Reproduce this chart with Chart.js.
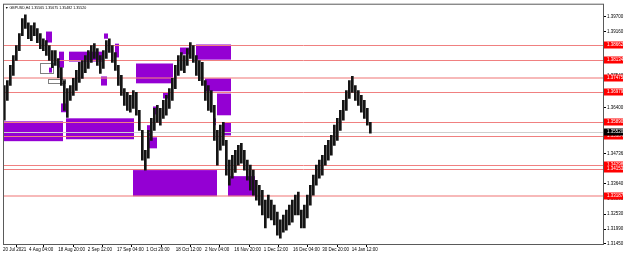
<!DOCTYPE html>
<html>
<head>
<meta charset="utf-8">
<script src="https://cdn.jsdelivr.net/npm/chart.js@4/dist/chart.umd.min.js"></script>
<style>
  html, body { margin: 0; padding: 0; background: #fff; }
  canvas { display: block; }
</style>
</head>
<body>
<canvas id="chart" width="625" height="255"></canvas>
<script>
// GBPUSD H4, one column every 9 bars (1.5 days), high / low
const COL_STEP = 9;
const priceHigh = [
  1.3720, 1.3738, 1.3793, 1.3829, 1.3865, 1.3909, 1.3963, 1.3977, 1.3948, 1.3938,
  1.3948, 1.3927, 1.3909, 1.3890, 1.3883, 1.3865, 1.3847, 1.3847, 1.3818, 1.3785,
  1.3738, 1.3709, 1.3720, 1.3746, 1.3775, 1.3804, 1.3811, 1.3829, 1.3847, 1.3865,
  1.3872, 1.3854, 1.3829, 1.3847, 1.3883, 1.3890, 1.3865, 1.3840, 1.3793, 1.3757,
  1.3709, 1.3695, 1.3684, 1.3702, 1.3695, 1.3630, 1.3557, 1.3485, 1.3557, 1.3601,
  1.3637, 1.3648, 1.3637, 1.3666, 1.3684, 1.3709, 1.3746, 1.3793, 1.3829, 1.3840,
  1.3829, 1.3854, 1.3876, 1.3865, 1.3829, 1.3811, 1.3804, 1.3738, 1.3720, 1.3702,
  1.3648, 1.3557, 1.3576, 1.3586, 1.3521, 1.3449, 1.3467, 1.3485, 1.3503, 1.3510,
  1.3485, 1.3449, 1.3431, 1.3413, 1.3376, 1.3358, 1.3340, 1.3304, 1.3322, 1.3304,
  1.3286, 1.3261, 1.3232, 1.3250, 1.3268, 1.3286, 1.3304, 1.3322, 1.3333, 1.3268,
  1.3286, 1.3322, 1.3358, 1.3395, 1.3431, 1.3449, 1.3467, 1.3503, 1.3521, 1.3539,
  1.3576, 1.3601, 1.3630, 1.3666, 1.3702, 1.3738, 1.3753, 1.3720, 1.3702, 1.3684,
  1.3666, 1.3637, 1.3586
];
const priceLow = [
  1.3594, 1.3666, 1.3720, 1.3757, 1.3811, 1.3847, 1.3901, 1.3927, 1.3890, 1.3883,
  1.3901, 1.3876, 1.3854, 1.3847, 1.3829, 1.3811, 1.3785, 1.3793, 1.3749, 1.3720,
  1.3630, 1.3604, 1.3666, 1.3684, 1.3702, 1.3731, 1.3746, 1.3767, 1.3782, 1.3804,
  1.3818, 1.3793, 1.3764, 1.3782, 1.3818, 1.3840, 1.3804, 1.3775, 1.3720, 1.3684,
  1.3648, 1.3630, 1.3623, 1.3637, 1.3612, 1.3557, 1.3449, 1.3413, 1.3456, 1.3521,
  1.3557, 1.3586, 1.3576, 1.3601, 1.3612, 1.3637, 1.3666, 1.3709, 1.3757, 1.3775,
  1.3767, 1.3793, 1.3818, 1.3804, 1.3757, 1.3738, 1.3720, 1.3666, 1.3630, 1.3623,
  1.3521, 1.3431, 1.3485, 1.3503, 1.3395, 1.3358, 1.3384, 1.3405, 1.3431, 1.3438,
  1.3413, 1.3376, 1.3340, 1.3322, 1.3304, 1.3286, 1.3250, 1.3203, 1.3239, 1.3232,
  1.3214, 1.3177, 1.3166, 1.3188, 1.3195, 1.3214, 1.3224, 1.3250, 1.3250, 1.3203,
  1.3203, 1.3239, 1.3286, 1.3322, 1.3358, 1.3384, 1.3395, 1.3431, 1.3449, 1.3467,
  1.3503, 1.3521, 1.3557, 1.3594, 1.3630, 1.3673, 1.3695, 1.3666, 1.3648, 1.3623,
  1.3601, 1.3576, 1.3547
];

// zones: [first bar, last bar, top price, bottom price]
const zones = [
  [129, 147, 1.3916, 1.3876],
  [168, 183, 1.3843, 1.3785],
  [138, 147, 1.3785, 1.3767],
  [198, 297, 1.3843, 1.3807],
  [303, 315, 1.3909, 1.3890],
  [336, 348, 1.3872, 1.3822],
  [294, 312, 1.3753, 1.3720],
  [399, 510, 1.3800, 1.3728],
  [480, 495, 1.3695, 1.3673],
  [531, 564, 1.3858, 1.3833],
  [579, 684, 1.3869, 1.3814],
  [606, 684, 1.3746, 1.3699],
  [642, 684, 1.3691, 1.3612],
  [630, 639, 1.3601, 1.3576],
  [657, 684, 1.3586, 1.3539],
  [0, 180, 1.3590, 1.3518],
  [189, 393, 1.3601, 1.3525],
  [174, 189, 1.3655, 1.3623],
  [450, 462, 1.3644, 1.3615],
  [432, 447, 1.3576, 1.3532],
  [438, 462, 1.3532, 1.3492],
  [432, 438, 1.3485, 1.3467],
  [390, 642, 1.3413, 1.3318],
  [675, 756, 1.3391, 1.3318]
];
// empty outlined boxes
const boxes = [
  [111, 150, 1.3800, 1.3767],
  [135, 186, 1.3742, 1.3728]
];

const levels = [1.38662, 1.38134, 1.37475, 1.36979, 1.35890, 1.35384, 1.34298, 1.34153, 1.33187];
const wideLevels = [1.37475, 1.33187];
const bidPrice = 1.35520;
const header = "\u25BC GBPUSD,H4 1.35565 1.35675 1.35482 1.35520";

const yTickValues = [1.39700, 1.39160, 1.38620, 1.38080, 1.37540, 1.36950, 1.36400, 1.35860,
  1.35300, 1.34736, 1.34190, 1.33640, 1.33090, 1.32530, 1.31990, 1.31450];
const xTickBars = [0, 78, 166, 254, 342, 430, 518, 606, 694, 782, 870, 958, 1046];
const xTickLabels = ["20 Jul 2021", "4 Aug 04:00", "18 Aug 20:00", "2 Sep 12:00", "17 Sep 04:00",
  "1 Oct 20:00", "18 Oct 12:00", "2 Nov 04:00", "16 Nov 20:00", "1 Dec 12:00",
  "16 Dec 04:00", "30 Dec 20:00", "14 Jan 12:00"];

const FONT = "Liberation Sans";
const AXIS_FONT = 4.5;

const overlay = {
  id: "overlay",
  beforeDatasetsDraw(chart) {
    const { ctx, chartArea: a, scales: { x, y } } = chart;
    ctx.save();
    ctx.beginPath();
    ctx.rect(a.left, a.top, a.width, a.height);
    ctx.clip();

    ctx.fillStyle = "#9400d3";
    zones.forEach(([b0, b1, p0, p1]) => {
      const x0 = x.getPixelForValue(b0), x1 = x.getPixelForValue(b1);
      const y0 = y.getPixelForValue(p0), y1 = y.getPixelForValue(p1);
      ctx.fillRect(x0, y0, x1 - x0, y1 - y0);
    });

    ctx.strokeStyle = "#808080";
    ctx.lineWidth = 1;
    boxes.forEach(([b0, b1, p0, p1]) => {
      const x0 = Math.round(x.getPixelForValue(b0)) + 0.5, x1 = Math.round(x.getPixelForValue(b1)) + 0.5;
      const y0 = Math.round(y.getPixelForValue(p0)) + 0.5, y1 = Math.round(y.getPixelForValue(p1)) + 0.5;
      ctx.strokeRect(x0, y0, x1 - x0, y1 - y0);
    });

    // bid line
    const by = Math.round(y.getPixelForValue(bidPrice)) + 0.5;
    ctx.strokeStyle = "#cfcfcf";
    ctx.beginPath();
    ctx.moveTo(a.left, by);
    ctx.lineTo(a.right, by);
    ctx.stroke();

    levels.forEach((p) => {
      const wide = wideLevels.includes(p);
      const ly = wide ? Math.round(y.getPixelForValue(p)) : Math.round(y.getPixelForValue(p)) + 0.5;
      ctx.strokeStyle = wide ? "rgba(240,128,128,0.55)" : "#f08080";
      ctx.lineWidth = wide ? 2 : 1;
      ctx.beginPath();
      ctx.moveTo(a.left, ly);
      ctx.lineTo(a.right, ly);
      ctx.stroke();
    });
    ctx.restore();
  },
  afterDraw(chart) {
    const { ctx, chartArea: a, scales: { y } } = chart;
    ctx.save();
    // frame
    ctx.strokeStyle = "#5a5a5a";
    ctx.lineWidth = 1;
    ctx.strokeRect(a.left + 0.5, a.top + 0.5, a.width - 1, a.height);

    // price tags on the right axis
    ctx.font = `${AXIS_FONT}px "${FONT}"`;
    ctx.textBaseline = "middle";
    ctx.textAlign = "left";
    const tag = (p, bg) => {
      const ty = Math.round(y.getPixelForValue(p));
      ctx.fillStyle = bg;
      ctx.fillRect(a.right, ty - 3.5, 19, 7);
      ctx.fillStyle = "#fff";
      ctx.fillText(p.toFixed(5), a.right + 3, ty);
    };
    levels.forEach((p) => tag(p, "#ff0000"));
    tag(bidPrice, "#000");

    // symbol header
    ctx.fillStyle = "#000";
    ctx.font = `3.6px "${FONT}"`;
    ctx.fillText(header, a.left + 2, a.top + 4);
    ctx.restore();
  }
};

new Chart(document.getElementById("chart"), {
  type: "bar",
  data: {
    datasets: [{
      data: priceLow.map((lo, i) => ({ x: 4 + i * COL_STEP, y: [lo, priceHigh[i]] })),
      backgroundColor: "#141414",
      borderWidth: 0,
      barThickness: 2
    }]
  },
  options: {
    responsive: false,
    devicePixelRatio: 1,
    animation: false,
    layout: { padding: { left: 3, top: 3, right: 0, bottom: 0 } },
    plugins: { legend: { display: false }, tooltip: { enabled: false } },
    scales: {
      x: {
        type: "linear",
        min: 0,
        max: 1803,
        offset: false,
        grid: { drawOnChartArea: false, drawTicks: true, tickLength: 3, color: "#000" },
        border: { display: false },
        afterBuildTicks: (s) => { s.ticks = xTickBars.map((v) => ({ value: v })); },
        afterFit: (s) => { s.height = 11; },
        ticks: {
          autoSkip: false,
          maxRotation: 0,
          align: "start",
          padding: 0,
          color: "#000",
          font: { family: FONT, size: AXIS_FONT },
          callback: (v) => xTickLabels[xTickBars.indexOf(v)]
        }
      },
      y: {
        position: "right",
        min: 1.31447,
        max: 1.40171,
        grid: { drawOnChartArea: false, drawTicks: true, tickLength: 2, color: "#000" },
        border: { display: false },
        afterBuildTicks: (s) => { s.ticks = yTickValues.map((v) => ({ value: v })); },
        afterFit: (s) => { s.width = 21; },
        ticks: {
          padding: 1,
          color: "#000",
          font: { family: FONT, size: AXIS_FONT },
          callback: (v) => v.toFixed(5)
        }
      }
    }
  },
  plugins: [overlay]
});
</script>
</body>
</html>
